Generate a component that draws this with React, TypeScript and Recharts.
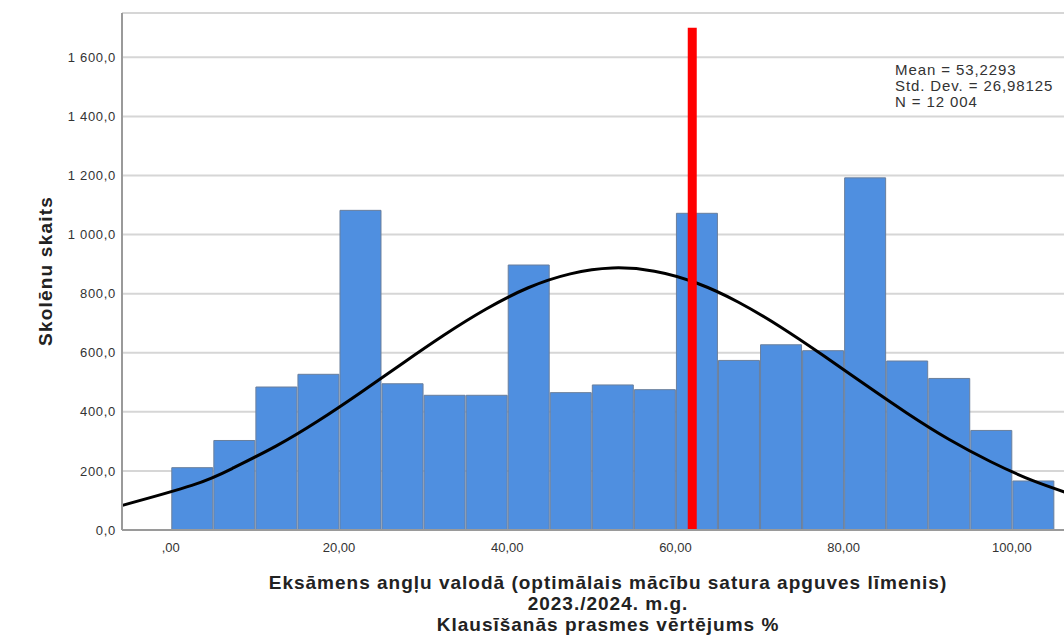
import { ComposedChart, Bar, Line, XAxis, YAxis, CartesianGrid, ReferenceLine } from 'recharts';

// histogram bins (5-point wide), centre of each bin
const binCenters = [2.5, 7.5, 12.5, 17.5, 22.5, 27.5, 32.5, 37.5, 42.5, 47.5, 52.5, 57.5, 62.5, 67.5, 72.5, 77.5, 82.5, 87.5, 92.5, 97.5, 102.5];
const counts = [211, 303, 484, 527, 1082, 495, 456, 456, 897, 465, 491, 475, 1072, 574, 627, 607, 1192, 572, 513, 337, 166];

// normal curve
const curveX = [-7.5, 2.5, 7.5, 12.5, 17.5, 22.5, 27.5, 32.5, 37.5, 42.5, 47.5, 52.5, 57.5, 62.5, 67.5, 72.5, 77.5, 82.5, 87.5, 92.5, 97.5, 102.5, 107.5];
const curveY = [70, 151, 211, 284, 369, 464, 563, 660, 748, 820, 867, 887, 876, 836, 771, 687, 592, 493, 396, 307, 231, 167, 117];

const xTicks = [0, 20, 40, 60, 80, 100];
const yTicks = [0, 200, 400, 600, 800, 1000, 1200, 1400, 1600];

const cutScore = 62;
const cutTop = 1700;

const statLines = ['Mean = 53,2293', 'Std. Dev. = 26,98125', 'N = 12 004'];
const xTitle = ['Eksāmens angļu valodā (optimālais mācību satura apguves līmenis)', '2023./2024. m.g.', 'Klausīšanās prasmes vērtējums %'];
const yTitle = 'Skolēnu skaits';

const FONT = '"Liberation Sans", Arial, sans-serif';

const rows = curveX.map((x, i) => {
  const k = binCenters.indexOf(x);
  return { x, curve: curveY[i], count: k >= 0 ? counts[k] : null };
});

const fmtY = (v: number) => {
  if (v >= 1000) return `${Math.floor(v / 1000)} ${String(v % 1000).padStart(3, '0')},0`;
  return `${v},0`;
};
const fmtX = (v: number) => (v === 0 ? ',00' : `${v},00`);

function XTitle() {
  return (
    <text textAnchor="middle" fontFamily={FONT} fontSize={19} fontWeight="bold" letterSpacing={1} fill="#222">
      {xTitle.map((t, i) => (
        <tspan key={i} x={608} y={589 + i * 21}>{t}</tspan>
      ))}
    </text>
  );
}

function YTitle() {
  return (
    <text x={52} y={271} transform="rotate(-90 52 271)" textAnchor="middle" fontFamily={FONT} fontSize={19} fontWeight="bold" letterSpacing={1.2} fill="#222">
      {yTitle}
    </text>
  );
}

export default function App() {
  return (
    <div style={{ position: 'absolute', left: 0, top: 0, width: 1064, height: 636, background: '#fff' }}>
      <ComposedChart width={1064} height={636} data={rows} margin={{ top: 13, right: 0, bottom: 0, left: 0 }}>
        <CartesianGrid vertical={false} stroke="#d6d6d6" strokeWidth={2} />
        <XAxis
          dataKey="x"
          type="number"
          domain={[-5.8, 106.2]}
          allowDataOverflow
          ticks={xTicks}
          tickFormatter={fmtX}
          tickLine={false}
          tickSize={0}
          tickMargin={13}
          height={106}
          stroke="#9a9a9a"
          strokeWidth={2}
          tick={{ fill: '#333', fontSize: 13, fontFamily: FONT }}
          label={<XTitle />}
        />
        <YAxis
          type="number"
          domain={[0, 1750]}
          allowDataOverflow
          ticks={yTicks}
          tickFormatter={fmtY}
          tickLine={false}
          tickSize={0}
          tickMargin={6}
          width={122}
          stroke="#9a9a9a"
          strokeWidth={2}
          tick={{ fill: '#333', fontSize: 13, fontFamily: FONT, letterSpacing: 0.7 }}
          label={<YTitle />}
        />
        <Bar dataKey="count" fill="#4f8fe0" stroke="#6a7f9c" strokeWidth={1} barSize={41} isAnimationActive={false} />
        <Line dataKey="curve" type="natural" stroke="#000" strokeWidth={3} dot={false} activeDot={false} isAnimationActive={false} />
        <ReferenceLine segment={[{ x: cutScore, y: 0 }, { x: cutScore, y: cutTop }]} stroke="#ff0000" strokeWidth={9} />
      </ComposedChart>
      <div style={{ position: 'absolute', left: 895, top: 62, fontFamily: FONT, fontSize: 15, lineHeight: '16px', letterSpacing: 0.9, color: '#333', whiteSpace: 'pre' }}>
        {statLines.map((s, i) => (
          <div key={i}>{s}</div>
        ))}
      </div>
    </div>
  );
}
